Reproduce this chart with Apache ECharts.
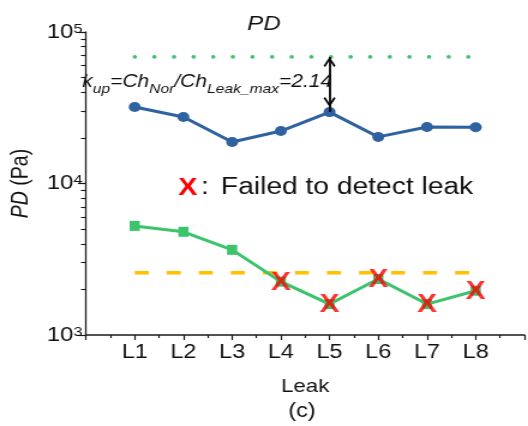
<!DOCTYPE html>
<html>
<head>
<meta charset="utf-8">
<script src="https://cdn.jsdelivr.net/npm/echarts@6/dist/echarts.min.js"></script>
<style>
  html, body { margin: 0; padding: 0; background: #fff; overflow: hidden; }
  #frame { width: 528px; height: 426px; overflow: hidden; position: relative; }
  /* the figure is laid out at 440px wide and widened to the full frame */
  #chart { width: 440px; height: 426px; transform: scaleX(1.2); transform-origin: 0 0; }
</style>
</head>
<body>
<div id="frame"><div id="chart"></div></div>
<script>
// Leak positions along the pipe
const leaks = ['L1', 'L2', 'L3', 'L4', 'L5', 'L6', 'L7', 'L8'];
// Characteristic value PD (Pa) without leak check (blue) and with leak (green)
const normalPD = [32000, 27500, 18800, 22200, 29600, 20300, 23600, 23500];
const leakPD = [5250, 4800, 3650, 2250, 1600, 2340, 1600, 1960];
// Reference level Ch_Nor and detection threshold
const normalLevel = 68500;
const detectLevel = 2580;
// Leaks whose PD fell under the threshold
const failedLeaks = ['L4', 'L5', 'L6', 'L7', 'L8'];
// Decade ticks and the in-between minor ticks of the log axis
const yTicks = [1000, 10000, 100000];
const yMinorTicks = [2000, 3000, 4000, 5000, 6000, 7000, 8000, 9000,
                     20000, 30000, 40000, 50000, 60000, 70000, 80000, 90000];
const arrowAt = 'L5';

const FONT = '"Liberation Sans", Arial, sans-serif';
const BLUE = '#2e62a0';
const GREEN = '#3cc46c';
const ORANGE = '#ffc000';
const AXIS = '#1a1a1a';

const pos = name => leaks.indexOf(name) + 1;
const pairs = vals => leaks.map((l, i) => [i + 1, vals[i]]);
const flat = v => leaks.map((l, i) => [i + 1, v]);

// thin open arrow head, tip pointing up
const chevron = 'path://M5,0 L10,8.6 L8.6,9.6 L5,3.2 L1.4,9.6 L0,8.6 Z';

const chart = echarts.init(document.getElementById('chart'), null, { renderer: 'canvas' });

chart.setOption({
  animation: false,
  backgroundColor: '#ffffff',
  textStyle: { fontFamily: FONT },
  title: {
    text: 'PD',
    left: 'center',
    top: 13,
    padding: 0,
    textStyle: { fontFamily: FONT, fontStyle: 'italic', fontWeight: 'normal', fontSize: 20, color: '#111', lineHeight: 22 }
  },
  grid: { left: 67.5, right: 1, top: 32, bottom: 91, containLabel: false },
  xAxis: {
    type: 'value',
    min: 0, max: 9, interval: 1,
    name: 'Leak',
    nameLocation: 'middle',
    nameGap: 42,
    nameTextStyle: { fontFamily: FONT, fontSize: 18.5, color: '#111' },
    axisLine: { show: true, onZero: false, lineStyle: { color: AXIS, width: 1.5 } },
    axisTick: { show: true, length: 5, lineStyle: { color: AXIS, width: 1.2 } },
    minorTick: { show: true, splitNumber: 2, length: 3, lineStyle: { color: AXIS, width: 1.2 } },
    splitLine: { show: false },
    minorSplitLine: { show: false },
    axisLabel: {
      margin: 8,
      fontFamily: FONT, fontSize: 19.5, color: '#111',
      formatter: v => (v >= 1 && v <= leaks.length) ? leaks[v - 1] : ''
    }
  },
  yAxis: [{
    type: 'log',
    logBase: 10,
    min: yTicks[0], max: yTicks[yTicks.length - 1],
    name: '{i|PD} (Pa)',
    nameLocation: 'middle',
    nameGap: 37.5,
    nameTextStyle: {
      fontFamily: FONT, fontSize: 19.5, color: '#111',
      rich: { i: { fontFamily: FONT, fontSize: 19.5, fontStyle: 'italic', color: '#111' } }
    },
    axisLine: { show: true, lineStyle: { color: AXIS, width: 1.3 } },
    axisTick: { show: true, length: 6.7, customValues: yTicks, lineStyle: { color: AXIS, width: 1.2 } },
    splitLine: { show: false },
    axisLabel: {
      margin: 3,
      customValues: yTicks,
      formatter: v => '{b|10}{s|' + Math.round(Math.log10(v)) + '}',
      rich: {
        b: { fontFamily: FONT, fontSize: 20, color: '#111', lineHeight: 20 },
        s: { fontFamily: FONT, fontSize: 13.5, color: '#111', lineHeight: 16, verticalAlign: 'top' }
      }
    }
  }, {
    type: 'log',
    logBase: 10,
    min: yTicks[0], max: yTicks[yTicks.length - 1],
    position: 'left',
    axisLine: { show: false },
    axisLabel: { show: false },
    splitLine: { show: false },
    axisTick: { show: true, length: 4.2, customValues: yMinorTicks, lineStyle: { color: AXIS, width: 1.1 } }
  }],
  graphic: [{
    type: 'text',
    x: 68.5, y: 82,
    style: {
      text: '{m|k}{s|up}{m|=Ch}{s|Nor}{m|/Ch}{s|Leak_max}{m|=2.14}',
      verticalAlign: 'middle',
      align: 'left',
      rich: {
        m: { fontFamily: FONT, fontStyle: 'italic', fontSize: 17.5, fill: '#111', lineHeight: 28 },
        s: { fontFamily: FONT, fontStyle: 'italic', fontSize: 13, fill: '#111', lineHeight: 14, verticalAlign: 'bottom' }
      }
    },
    z: 10
  }, {
    type: 'text',
    x: 148.5, y: 188,
    style: {
      text: '{x|X}{c|:}{t|Failed to detect leak}',
      verticalAlign: 'middle',
      align: 'left',
      rich: {
        x: { fontFamily: FONT, fontSize: 24, fontWeight: 'bold', fill: '#ff0000' },
        c: { fontFamily: FONT, fontSize: 23.5, fill: '#111', padding: [0, 10, 0, 3] },
        t: { fontFamily: FONT, fontSize: 23.5, fill: '#111' }
      }
    },
    z: 10
  }, {
    type: 'text',
    x: 251.7, y: 412,
    style: {
      text: '(c)',
      align: 'center',
      verticalAlign: 'middle',
      fontFamily: FONT, fontSize: 19.5, fill: '#111'
    }
  }],
  series: [{
    name: 'Ch_Nor',
    type: 'line',
    data: flat(normalLevel),
    symbol: 'none',
    silent: true,
    lineStyle: { color: GREEN, width: 3.6, type: [0.1, 16.25], cap: 'round' },
    z: 2
  }, {
    name: 'threshold',
    type: 'line',
    data: flat(detectLevel),
    symbol: 'none',
    silent: true,
    lineStyle: { color: ORANGE, width: 3.5, type: [11.7, 15], cap: 'butt' },
    z: 2
  }, {
    name: 'no leak',
    type: 'line',
    data: pairs(normalPD),
    symbol: 'circle',
    symbolSize: 10,
    itemStyle: { color: BLUE },
    lineStyle: { color: BLUE, width: 3 },
    z: 3,
    markLine: {
      silent: true,
      symbol: [chevron, chevron],
      symbolSize: [10, 10],
      symbolOffset: [[0, 5], [0, 10]],
      label: { show: false },
      lineStyle: { color: '#000', width: 1.8, type: 'solid' },
      data: [[
        { coord: [pos(arrowAt), normalLevel] },
        { coord: [pos(arrowAt), normalPD[pos(arrowAt) - 1]] }
      ]]
    }
  }, {
    name: 'leak',
    type: 'line',
    data: pairs(leakPD),
    symbol: 'rect',
    symbolSize: [8.5, 10],
    itemStyle: { color: GREEN },
    lineStyle: { color: GREEN, width: 3 },
    z: 3
  }, {
    name: 'failed',
    type: 'scatter',
    data: failedLeaks.map(l => [pos(l), leakPD[pos(l) - 1]]),
    symbol: 'rect',
    symbolSize: 1,
    itemStyle: { color: 'rgba(0,0,0,0)' },
    label: {
      show: true,
      position: 'inside',
      formatter: 'X',
      fontFamily: FONT,
      fontSize: 25,
      fontWeight: 'bold',
      color: '#ff0000',
      offset: [0, 1]
    },
    z: 5
  }]
});
</script>
</body>
</html>
